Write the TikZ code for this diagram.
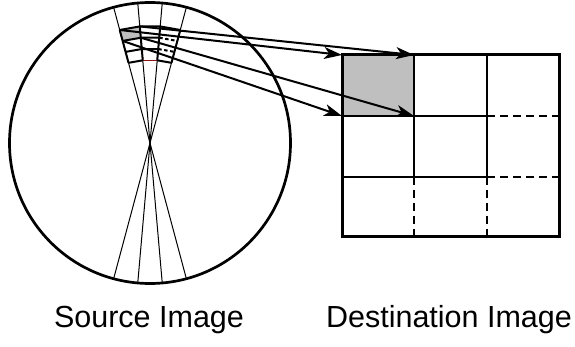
\documentclass[tikz,border=0pt]{standalone}
\usepackage{fontspec}
\setmainfont{Liberation Sans}
\usetikzlibrary{calc,arrows.meta}

\begin{document}
\begin{tikzpicture}[x=1pt,y=1pt,
  fanline/.style={line width=1pt},
  cellline/.style={line width=2pt},
  cellgap/.style={line width=2pt, dash pattern=on 3.5pt off 2.5pt},
  redline/.style={line width=1pt, draw={rgb,255:red,140;green,20;blue,20}},
  gridline/.style={line width=2pt},
  griddash/.style={line width=2pt, dash pattern=on 8pt off 5pt},
  frame/.style={line width=3pt},
  mapto/.style={line width=2pt, -{Stealth[length=18pt,width=12pt,inset=5pt]}},
  caption/.style={font=\fontsize{30.5}{36}\selectfont, anchor=base},
  pixel/.style={fill=black!25}]
\useasboundingbox (0,0) rectangle (575,-347);

% ---------- source image: polar scan ----------
\coordinate (C) at (150,-143);
\draw[line width=2.7pt] (C) circle[radius=140.5];

% scan lines through the centre
\foreach \a in {105,95,85,75}
  \draw[fanline] ($(C)+(\a:139.5)$) -- ($(C)+(\a+180:139.5)$);

% polar sample grid: column i along beam angle, row j along radius
\foreach \i/\a in {1/105,2/95,3/85,4/75}
  \foreach \j/\r in {1/117,2/105.67,3/94.33,4/83}
    \coordinate (p\i\j) at ($(C)+(\a:\r)$);

\fill[pixel] (p11) -- (p21) -- (p22) -- (p12) -- cycle;

\draw[cellline] (p11) -- (p21) -- (p31) -- (p41);
\draw[cellline] (p12) -- (p22) -- (p32);
\draw[cellgap]  (p32) -- (p42);
\draw[cellline] (p13) -- (p23) -- (p33);
\draw[cellgap]  (p33) -- (p43);
\draw[cellline] (p14) -- (p24);
\draw[redline]  (p24) -- (p34);
\draw[cellline] (p34) -- (p44);
\foreach \i in {1,...,4}
  \draw[cellline] (p\i1) -- (p\i4);

% ---------- destination image: pixel grid ----------
\foreach \i/\x in {1/342,2/414,3/487,4/559}
  \foreach \j/\y in {1/-55,2/-116,3/-177,4/-237}
    \coordinate (d\i\j) at (\x,\y);

\fill[pixel] (d11) rectangle (d22);
\draw[gridline] (d21) -- (d23);
\draw[gridline] (d31) -- (d33);
\draw[gridline] (d12) -- (d32);
\draw[gridline] (d13) -- (d33);
\draw[griddash] (d32) -- (d42);
\draw[griddash] (d33) -- (d43);
\draw[griddash] (d23) -- (d24);
\draw[griddash] (d33) -- (d34);
\draw[frame] (d11) rectangle (d44);

% ---------- mapping of the pixel corners ----------
\draw[mapto] (p11) -- (d11);
\draw[mapto] (p21) -- (d21);
\draw[mapto] (p12) -- (d12);
\draw[mapto] (p22) -- (d22);

% ---------- captions ----------
\node[caption] (srclabel) at (149,-327) {Source Image};
\node[caption] (dstlabel) at (449,-327) {Destination Image};
\end{tikzpicture}
\end{document}
